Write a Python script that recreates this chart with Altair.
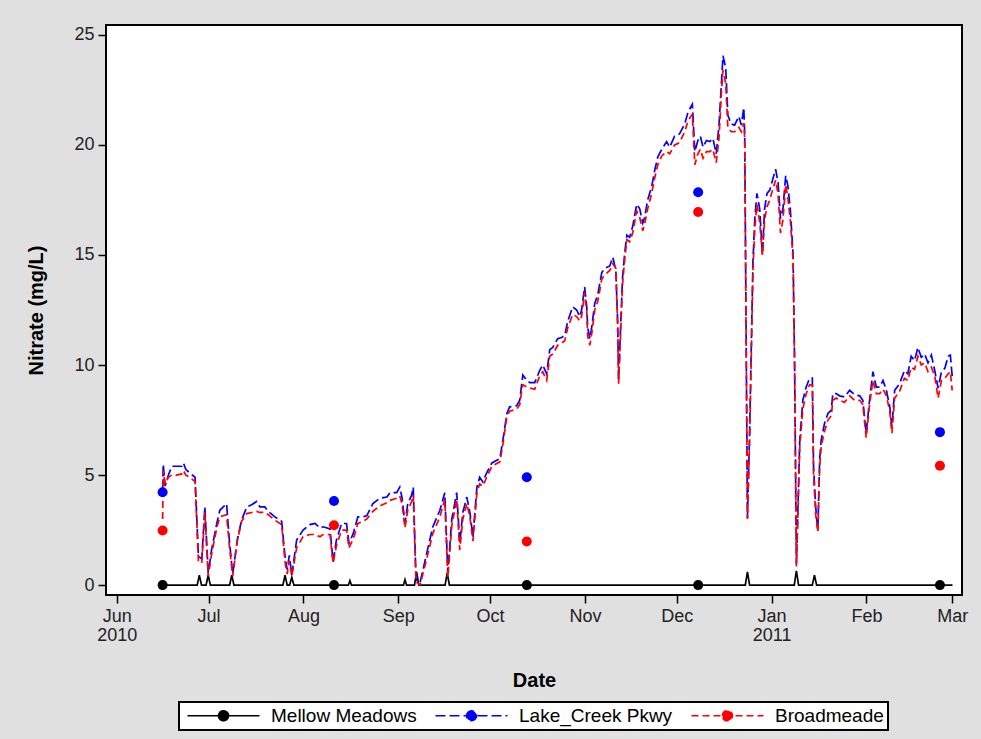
import altair as alt
import pandas as pd

# ---------------- data (days counted from 2010-06-01) ----------------
sites = ["Mellow Meadows", "Lake_Creek Pkwy", "Broadmeade"]
site_colors = ["#000000", "#0000ff", "#ff0000"]

# grab samples (dots)
sample_days = [15, 71, 134, 190, 269]
mellow_samples = [0.0, 0.0, 0.0, 0.0, 0.0]
lake_samples = [4.22, 3.82, 4.90, 17.85, 6.95]
broad_samples = [2.48, 2.72, 1.98, 16.95, 5.42]

# continuous record, Mellow Meadows (flat with small spikes)
mellow_days = [14.8, 26.3, 27.0, 27.7, 29.2, 29.9, 30.6, 36.9, 37.6, 38.3,
               54.3, 55.0, 55.7, 56.5, 57.2, 57.9, 75.7, 76.2, 76.7, 93.7,
               94.2, 94.7, 97.3, 98.0, 98.7, 107.3, 108.0, 108.7, 205.4, 206.1,
               206.8, 221.4, 222.1, 222.8, 227.3, 228.0, 228.7, 273.1]
mellow_vals = [0, 0, 0.45, 0, 0, 0.45, 0, 0, 0.45, 0,
               0, 0.45, 0, 0, 0.35, 0, 0, 0.2, 0, 0,
               0.25, 0, 0, 0.6, 0, 0, 0.55, 0, 0, 0.6,
               0, 0, 0.65, 0, 0, 0.45, 0, 0]

# continuous record, Lake_Creek Pkwy and Broadmeade
sensor_days = [
    15.0, 15.2, 15.8, 16.9, 18.0, 19.4, 21.3, 21.8, 22.6, 23.9,
    25.6, 26.7, 27.8, 28.8, 29.9, 31.0, 32.7, 33.7, 35.9, 36.8,
    37.9, 39.4, 40.8, 42.5, 44.1, 45.7, 46.8, 48.4, 49.5, 51.7,
    53.9, 55.0, 55.7, 56.4, 57.2, 58.8, 60.9, 63.1, 64.8, 66.4,
    67.5, 69.7, 70.7, 71.8, 73.5, 75.1, 75.9, 77.3, 78.8, 80.4,
    81.7, 83.7, 86.0, 88.3, 89.3, 91.5, 92.5, 93.2, 94.2, 95.1,
    96.4, 96.9, 97.8, 99.1, 101.3, 103.3, 105.6, 107.2, 108.2, 109.5,
    111.1, 112.1, 113.1, 114.4, 115.4, 116.4, 117.7, 118.6, 119.6, 120.9,
    122.6, 125.2, 126.2, 127.5, 128.4, 130.7, 131.7, 132.4, 132.7, 134.0,
    135.0, 136.6, 138.2, 139.2, 140.5, 141.5, 142.5, 144.1, 145.4, 146.4,
    147.4, 149.0, 150.3, 151.3, 151.9, 152.9, 153.6, 153.9, 154.6, 155.2,
    156.2, 157.2, 158.5, 159.5, 161.1, 162.1, 163.1, 163.7, 164.0, 164.7,
    165.3, 166.0, 166.7, 167.6, 168.6, 169.9, 170.9, 171.9, 172.5, 173.5,
    174.8, 175.8, 176.8, 178.1, 179.7, 180.7, 182.3, 183.9, 185.6, 186.7,
    188.1, 188.9, 189.9, 190.7, 191.6, 192.7, 193.8, 194.8, 195.9, 196.8,
    197.6, 198.1, 199.0, 199.7, 200.8, 201.9, 203.3, 204.1, 204.9, 205.2,
    206.1, 206.8, 207.9, 208.5, 209.2, 210.1, 211.0, 211.7, 212.5, 213.4,
    214.4, 215.3, 216.1, 216.9, 217.7, 218.6, 219.3, 220.1, 221.0, 221.5,
    222.1, 223.2, 224.2, 225.3, 226.4, 227.3, 227.7, 228.4, 229.1, 229.7,
    230.2, 231.3, 232.4, 233.5, 234.0, 235.1, 236.2, 237.8, 239.5, 241.1,
    242.8, 243.8, 244.9, 246.0, 247.1, 248.2, 249.3, 250.4, 251.5, 252.6,
    253.3, 254.2, 255.8, 257.4, 258.5, 259.6, 260.7, 261.8, 262.9, 264.0,
    265.1, 266.2, 267.3, 268.4, 269.5, 270.6, 271.7, 272.4, 273.0,
]
lake_vals = [
    4.3, 5.5, 4.5, 5.0, 5.4, 5.4, 5.4, 5.55, 5.25, 5.1,
    4.9, 1.3, 1.2, 3.55, 0.55, 1.6, 2.8, 3.4, 3.7, 2.05,
    0.5, 2.05, 2.95, 3.55, 3.65, 3.8, 3.55, 3.55, 3.35, 3.1,
    2.9, 1.3, 0.7, 1.35, 0.45, 2.05, 2.5, 2.75, 2.8, 2.6,
    2.65, 2.55, 1.05, 2.05, 2.8, 2.8, 1.9, 2.35, 3.1, 3.1,
    3.15, 3.7, 3.95, 4.0, 4.2, 4.2, 4.45, 4.0, 2.8, 3.7,
    4.1, 4.45, 0.25, 0.1, 1.45, 2.65, 3.4, 4.2, 0.55, 3.0,
    4.2, 1.9, 3.3, 4.0, 3.3, 2.2, 4.45, 4.9, 4.7, 5.1,
    5.55, 5.75, 6.6, 7.8, 8.1, 8.15, 8.4, 9.2, 9.55, 9.3,
    9.2, 9.2, 9.75, 10.0, 9.6, 10.7, 10.8, 11.2, 11.25, 11.35,
    12.0, 12.65, 12.5, 12.2, 12.5, 13.55, 12.65, 11.7, 11.2, 11.7,
    12.8, 13.2, 14.2, 14.4, 14.5, 14.9, 14.3, 11.9, 9.3, 11.9,
    14.0, 15.1, 15.9, 15.8, 16.3, 17.3, 17.1, 16.45, 16.7, 17.5,
    18.1, 18.85, 19.45, 19.8, 20.15, 19.9, 20.4, 20.5, 20.95, 21.5,
    21.85, 19.7, 20.2, 20.4, 19.9, 20.2, 20.15, 20.3, 19.6, 20.9,
    22.8, 24.05, 23.5, 21.35, 20.95, 20.9, 21.3, 20.9, 21.7, 20.55,
    3.05, 6.9, 14.7, 16.65, 17.8, 17.1, 15.0, 17.1, 17.8, 17.95,
    18.45, 18.9, 18.3, 16.65, 17.1, 18.6, 18.15, 17.1, 15.05, 10.2,
    0.95, 6.6, 8.4, 9.0, 9.4, 9.4, 5.4, 3.55, 2.5, 5.7,
    6.6, 7.35, 7.8, 7.95, 8.7, 8.7, 8.6, 8.55, 8.85, 8.65,
    8.6, 8.4, 6.9, 8.4, 9.7, 9.0, 9.0, 9.3, 8.85, 8.1,
    7.2, 8.85, 9.15, 9.75, 9.6, 10.4, 10.2, 10.8, 10.35, 10.5,
    10.1, 10.45, 9.75, 8.95, 9.7, 9.85, 10.4, 10.45, 9.5,
]
broad_vals = [
    3.0, 5.2, 4.6, 4.9, 5.0, 5.0, 5.05, 5.2, 5.0, 4.9,
    4.7, 1.1, 1.0, 3.3, 0.4, 1.4, 2.6, 3.1, 3.2, 1.8,
    0.4, 2.0, 2.9, 3.25, 3.3, 3.35, 3.3, 3.3, 3.2, 2.95,
    2.75, 1.05, 0.5, 1.1, 0.4, 1.7, 2.2, 2.3, 2.3, 2.2,
    2.3, 2.3, 1.0, 1.8, 2.5, 2.5, 1.7, 2.1, 2.8, 2.9,
    3.0, 3.35, 3.6, 3.75, 3.85, 3.95, 4.05, 3.7, 2.6, 3.4,
    3.8, 4.1, 0.15, 0.0, 1.2, 2.35, 3.1, 3.9, 0.35, 2.7,
    3.9, 1.6, 3.0, 3.7, 3.1, 2.0, 4.2, 4.6, 4.5, 4.9,
    5.4, 5.6, 6.4, 7.7, 7.9, 8.0, 8.2, 8.9, 9.1, 9.0,
    8.95, 8.9, 9.5, 9.7, 9.3, 10.4, 10.5, 10.9, 11.0, 11.1,
    11.7, 12.3, 12.2, 12.0, 12.2, 13.3, 12.4, 11.3, 10.9, 11.4,
    12.5, 12.9, 13.9, 14.1, 14.3, 14.6, 14.4, 11.7, 9.15, 11.6,
    13.7, 14.8, 15.7, 15.6, 16.0, 17.0, 16.7, 16.1, 16.4, 17.1,
    17.8, 18.5, 19.1, 19.5, 19.7, 19.6, 20.0, 20.1, 20.6, 21.1,
    21.4, 19.1, 19.6, 19.8, 19.4, 19.7, 19.7, 19.8, 19.2, 20.3,
    22.4, 23.4, 22.8, 20.8, 20.6, 20.6, 20.8, 20.6, 21.0, 20.3,
    3.0, 6.5, 14.3, 16.2, 17.3, 16.5, 15.0, 16.6, 17.2, 17.5,
    18.0, 18.4, 17.8, 16.0, 16.6, 18.2, 17.6, 16.6, 14.8, 10.0,
    0.85, 6.3, 8.0, 8.7, 9.1, 9.1, 5.0, 3.2, 2.4, 5.4,
    6.3, 7.0, 7.5, 7.7, 8.4, 8.5, 8.4, 8.3, 8.6, 8.4,
    8.4, 8.2, 6.7, 8.2, 9.3, 8.7, 8.7, 8.9, 8.6, 7.9,
    6.9, 8.5, 8.8, 9.4, 9.3, 9.9, 9.8, 10.4, 10.0, 10.1,
    9.7, 9.9, 9.5, 8.5, 9.3, 9.4, 9.6, 9.7, 8.85,
]

y_ticks = [0, 5, 10, 15, 20, 25]

# ---------------- build tables ----------------
BASE_MS = int(pd.Timestamp("2010-06-01", tz="UTC").value // 10**6)
DAY_MS = 86400000


def to_ms(days):
    return [BASE_MS + d * DAY_MS for d in days]


lines_df = pd.concat([
    pd.DataFrame({"site": sites[0], "t": to_ms(mellow_days), "v": mellow_vals}),
    pd.DataFrame({"site": sites[1], "t": to_ms(sensor_days), "v": lake_vals}),
    pd.DataFrame({"site": sites[2], "t": to_ms(sensor_days), "v": broad_vals}),
], ignore_index=True)

points_df = pd.concat([
    pd.DataFrame({"site": sites[0], "t": to_ms(sample_days), "v": mellow_samples}),
    pd.DataFrame({"site": sites[1], "t": to_ms(sample_days), "v": lake_samples}),
    pd.DataFrame({"site": sites[2], "t": to_ms(sample_days), "v": broad_samples}),
], ignore_index=True)

FONT = "Liberation Sans"

month_ticks = [alt.DateTime(year=2010, month=m, date=1, utc=True) for m in range(6, 13)] + \
              [alt.DateTime(year=2011, month=m, date=1, utc=True) for m in range(1, 4)]

x_enc = alt.X(
    "t:T",
    scale=alt.Scale(type="utc",
                    domain=[alt.DateTime(year=2010, month=5, date=28, hours=12, utc=True),
                            alt.DateTime(year=2011, month=3, date=4, hours=5, utc=True)]),
    axis=alt.Axis(
        values=month_ticks,
        labelExpr="[utcFormat(datum.value, '%b'), (utcmonth(datum.value) == 5 || utcmonth(datum.value) == 0) ? utcFormat(datum.value, '%Y') : '']",
        labelFont=FONT, labelFontSize=18, labelColor="#222222",
        labelLineHeight=19, labelPadding=4, labelBaseline="top",
        tickSize=8, tickColor="#000000", tickWidth=1.5,
        domain=False, grid=False,
        title="Date", titleFont=FONT, titleFontSize=20, titleFontWeight="bold",
        titleColor="#000000", titlePadding=26,
    ),
)

y_enc = alt.Y(
    "v:Q",
    scale=alt.Scale(domain=[-0.45, 25.45], nice=False, zero=False),
    axis=alt.Axis(
        values=y_ticks,
        labelFont=FONT, labelFontSize=18, labelColor="#222222", labelPadding=4,
        tickSize=8, tickColor="#000000", tickWidth=1.5,
        domain=False, grid=False,
        title="Nitrate (mg/L)", titleFont=FONT, titleFontSize=20, titleFontWeight="bold",
        titleColor="#000000", titlePadding=27,
    ),
)

SYMBOL_PATH = "M-7.2,0L7.2,0M-1,0A1,1,0,1,1,1,0A1,1,0,1,1,-1,0Z"

legend = alt.Legend(
    title=None, orient="none", legendX=73, legendY=677, direction="horizontal", columns=3,
    symbolType=SYMBOL_PATH, symbolSize=100, symbolStrokeWidth=1.6, symbolOffset=31,
    labelOffset=38, labelFont=FONT, labelFontSize=19, labelColor="#000000", labelLimit=400,
    columnPadding=14, padding=4, strokeColor="#000000", fillColor="#ffffff",
)

color_enc = alt.Color("site:N", scale=alt.Scale(domain=sites, range=site_colors), legend=legend)
dash_enc = alt.StrokeDash("site:N",
                          scale=alt.Scale(domain=sites, range=[[1, 0], [10, 4], [7, 4]]),
                          legend=legend)


def line_layer(site):
    return alt.Chart(lines_df).transform_filter(alt.datum.site == site).mark_line(
        strokeWidth=1.7, clip=True
    ).encode(x=x_enc, y=y_enc, color=color_enc, strokeDash=dash_enc, order="t:T")


def point_layer(site):
    return alt.Chart(points_df).transform_filter(alt.datum.site == site).mark_circle(
        size=100, opacity=1
    ).encode(x=x_enc, y=y_enc, color=color_enc)


chart = alt.layer(
    *[line_layer(s) for s in sites],
    *[point_layer(s) for s in sites],
).properties(
    width=856, height=570,
    background="#e0e0e0",
    padding={"left": 106, "top": 25, "right": 19, "bottom": 144},
    autosize=alt.AutoSizeParams(type="none"),
).configure_view(
    stroke="#000000", strokeWidth=2, fill="#ffffff"
).configure_legend(
    strokeWidth=2
)

chart.save("out.html", embed_options={"renderer": "svg", "actions": False})
